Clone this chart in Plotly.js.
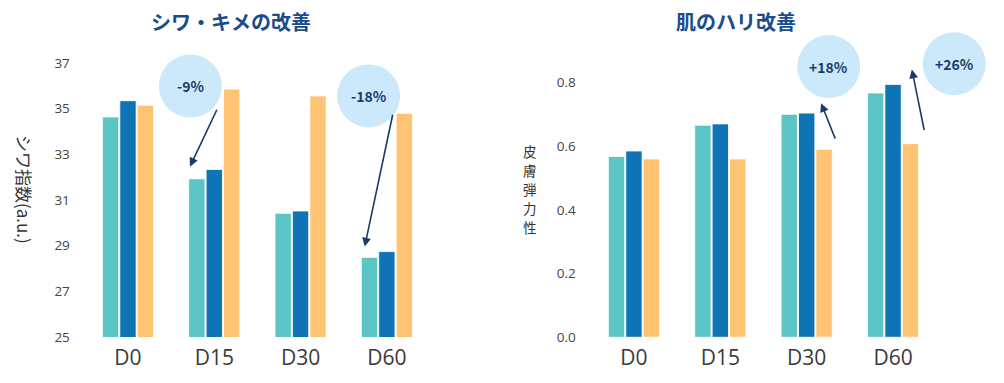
<!DOCTYPE html>
<html><head><meta charset="utf-8">
<script src="https://cdn.plot.ly/plotly-3.0.1.min.js"></script>
<style>html,body{margin:0;padding:0;background:#fff}#c{width:1004px;height:383px}</style>
</head><body><div id="c"></div>
<script>
const categories = ['D0','D15','D30','D60'];
// シワ指数 (a.u.)
const wrinkleA = [34.64, 31.93, 30.42, 28.49];
const wrinkleB = [35.35, 32.34, 30.52, 28.74];
const wrinkleC = [35.15, 35.86, 35.56, 34.80];
// 皮膚弾力性
const elastA = [0.568, 0.666, 0.700, 0.767];
const elastB = [0.585, 0.670, 0.704, 0.794];
const elastC = [0.560, 0.560, 0.590, 0.608];
const leftTicks = [25,27,29,31,33,35,37];
const rightTicks = [0,0.2,0.4,0.6,0.8];
const rightTickText = ['0.0','0.2','0.4','0.6','0.8'];
const titleLeft = 'シワ・キメの改善';
const titleRight = '肌のハリ改善';
const yTitleLeft = 'シワ指数(a.u.)';
const yTitleRight = '皮膚弾力性';
// callouts: label, circle centre (category index, value), arrow head, arrow tail
const calloutsLeft = [
  {label:'-9%', cx:0.723, cy:35.99, hx:0.718, hy:32.46, tx:1.038, ty:35.02},
  {label:'-18%', cx:2.789, cy:35.56, hx:2.743, hy:28.96, tx:3.071, ty:34.80}
];
const calloutsRight = [
  {label:'+18%', cx:2.256, cy:0.850, hx:2.167, hy:0.735, tx:2.337, ty:0.619},
  {label:'+26%', cx:3.708, cy:0.859, hx:3.218, hy:0.841, tx:3.364, ty:0.646}
];

const colors = ['#5bc4c5','#0e74b5','#fec474'];
const FONT = '"Noto Sans CJK JP", "Noto Sans", sans-serif';
const NAVY = '#1b3a6b';

const dL = [0.0845, 0.4283], dR = [0.5884, 0.9325];
const yL = {range:[25, 38.5], domain:[0.1201, 0.9248]};
const yR = {range:[0, 1.0], domain:[0.1193, 0.951]};

function mk(x, y, c, xa, ya){
  return {type:'bar', x:x, y:y, xaxis:xa, yaxis:ya, marker:{color:c, line:{color:'rgba(255,255,255,0.85)', width:1}}, hoverinfo:'skip', showlegend:false};
}
const data = [
  mk(categories, wrinkleA, colors[0], 'x','y'),
  mk(categories, wrinkleB, colors[1], 'x','y'),
  mk(categories, wrinkleC, colors[2], 'x','y'),
  mk(categories, elastA, colors[0], 'x2','y2'),
  mk(categories, elastB, colors[1], 'x2','y2'),
  mk(categories, elastC, colors[2], 'x2','y2')
];

function px(idx, dom){ return dom[0] + (idx+0.5)/4*(dom[1]-dom[0]); }
function py(v, ax){ return ax.domain[0] + (v-ax.range[0])/(ax.range[1]-ax.range[0])*(ax.domain[1]-ax.domain[0]); }

const shapes = [], annotations = [];
function addCallouts(list, dom, ax, xr, yr){
  list.forEach(c=>{
    const X = px(c.cx, dom), Y = py(c.cy, ax);
    shapes.push({type:'circle', xref:'paper', yref:'paper', xsizemode:'pixel', ysizemode:'pixel',
      xanchor:X, yanchor:Y, x0:-31.5, x1:31.5, y0:-31.5, y1:31.5,
      fillcolor:'#cbe9fa', line:{width:0}, layer:'above'});
    annotations.push({xref:'paper', yref:'paper', x:X, y:Y, xanchor:'center', yanchor:'middle', text:'<b>'+c.label+'</b>', showarrow:false,
      font:{family:FONT, size:14, color:NAVY}});
    annotations.push({xref:xr, yref:yr, x:c.hx, y:c.hy, ax:c.tx, ay:c.ty, axref:xr, ayref:yr, text:'',
      showarrow:true, arrowhead:2, arrowsize:1.1, arrowwidth:1.6, arrowcolor:NAVY, standoff:0});
  });
}
addCallouts(calloutsLeft, dL, yL, 'x','y');
addCallouts(calloutsRight, dR, yR, 'x2','y2');

annotations.push({xref:'paper', yref:'paper', x:231/1004, y:(383-21)/383, xanchor:'center', yanchor:'middle', text:'<b>'+titleLeft+'</b>', showarrow:false,
  font:{family:FONT, size:20, color:'#1a4c8b'}});
annotations.push({xref:'paper', yref:'paper', x:736/1004, y:(383-21)/383, xanchor:'center', yanchor:'middle', text:'<b>'+titleRight+'</b>', showarrow:false,
  font:{family:FONT, size:20, color:'#1a4c8b'}});
annotations.push({xref:'paper', yref:'paper', x:25/1004, y:(383-189)/383, xanchor:'center', yanchor:'middle', text:yTitleLeft, textangle:90, showarrow:false,
  font:{family:FONT, size:17, color:'#333'}});
const chars = Array.from(yTitleRight), pitch = 19;
chars.forEach((ch,i)=>{
  const yc = 189 + (i-(chars.length-1)/2)*pitch;
  annotations.push({xref:'paper', yref:'paper', x:530/1004, y:(383-yc)/383, xanchor:'center', yanchor:'middle',
    text:ch, showarrow:false, font:{family:FONT, size:13.5, color:'#333'}});
});

const xax = (dom, anchor)=>({domain:dom, anchor:anchor, range:[-0.5,3.5], showgrid:false, zeroline:false, showline:false,
  ticks:'', tickfont:{family:'"Open Sans", sans-serif', size:21, color:'#3a3a3a'}, ticklabelstandoff:6, fixedrange:true});
const yax = (ax, anchor, tv, tt)=>({domain:ax.domain, anchor:anchor, range:ax.range, showgrid:false, zeroline:false, showline:false,
  ticks:'', tickvals:tv, ticktext:tt, tickfont:{family:'"Open Sans", sans-serif', size:13.5, color:'#444'}, ticklabelstandoff:14, fixedrange:true});

const layout = {
  width:1004, height:383, margin:{l:0,r:0,t:0,b:0}, paper_bgcolor:'#fff', plot_bgcolor:'rgba(0,0,0,0)',
  barmode:'group', bargap:0.395, bargroupgap:0.06, showlegend:false,
  xaxis:xax(dL,'y'), yaxis:yax(yL,'x',leftTicks,leftTicks.map(String)),
  xaxis2:xax(dR,'y2'), yaxis2:yax(yR,'x2',rightTicks,rightTickText),
  shapes:shapes, annotations:annotations
};
Plotly.newPlot('c', data, layout, {staticPlot:true});
</script></body></html>
